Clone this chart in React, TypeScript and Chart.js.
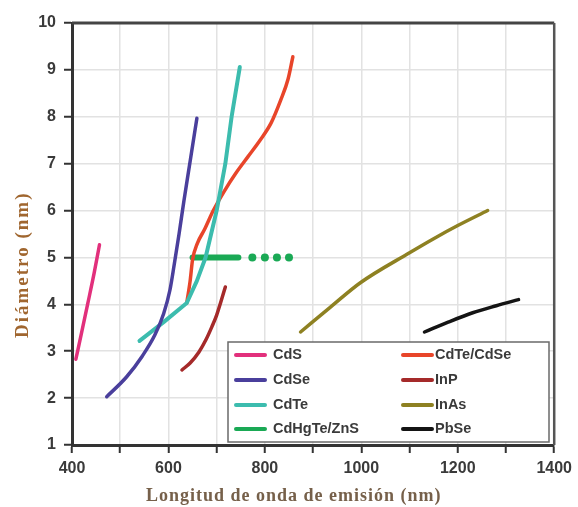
import { useEffect, useRef } from 'react';
import { Chart, registerables } from 'chart.js';

Chart.register(...registerables);

// Emission wavelength (nm) vs. nanocrystal diameter (nm) for each material
const cdsX = [408, 420, 433, 446, 457];
const cdsY = [2.83, 3.4, 4.03, 4.67, 5.27];

const cdseX = [472, 513, 546, 572, 590, 603, 612, 622, 632, 645, 659];
const cdseY = [2.03, 2.45, 2.9, 3.35, 3.8, 4.3, 4.85, 5.5, 6.2, 7.05, 7.97];

const cdteX = [540, 590, 638, 659, 677, 700, 718, 731, 748];
const cdteY = [3.22, 3.62, 4.03, 4.5, 5.0, 6.0, 7.0, 8.0, 9.06];

const cdhgteX = [650, 745];
const cdhgteY = [5, 5];
const cdhgteDotsX = [774, 800, 825, 850];
const cdhgteDotsY = [5, 5, 5, 5];

const cdteCdseX = [638, 645, 650, 660, 675, 693, 715, 740, 765, 790, 813, 833, 848, 858];
const cdteCdseY = [4.03, 4.5, 4.95, 5.3, 5.6, 6.0, 6.4, 6.8, 7.15, 7.5, 7.87, 8.36, 8.8, 9.28];

const inpX = [628, 645, 663, 678, 690, 700, 708, 718];
const inpY = [2.6, 2.75, 2.98, 3.25, 3.52, 3.77, 4.03, 4.37];

const inasX = [874, 936, 998, 1100, 1150, 1200, 1262];
const inasY = [3.41, 3.94, 4.46, 5.1, 5.4, 5.68, 6.0];

const pbseX = [1131, 1180, 1231, 1280, 1326];
const pbseY = [3.41, 3.62, 3.82, 3.97, 4.1];

// Legend layout: left column, then right column
const legendLeft = ['CdS', 'CdSe', 'CdTe', 'CdHgTe/ZnS'];
const legendRight = ['CdTe/CdSe', 'InP', 'InAs', 'PbSe'];

const xTitle = 'Longitud de onda de emisión (nm)';
const yTitle = 'Diámetro (nm)';

const COLORS: Record<string, string> = {
  CdS: '#e2307c',
  CdSe: '#4a3f9c',
  CdTe: '#3cbcae',
  'CdHgTe/ZnS': '#1aa955',
  'CdTe/CdSe': '#e8452a',
  InP: '#a52a2a',
  InAs: '#8e8122',
  PbSe: '#141414',
};

const pts = (xs: number[], ys: number[]) => xs.map((x, i) => ({ x, y: ys[i] }));

const line = (label: string, xs: number[], ys: number[], width = 3.5, smooth = true) => ({
  label,
  data: pts(xs, ys),
  showLine: true,
  borderColor: COLORS[label],
  backgroundColor: COLORS[label],
  borderWidth: width,
  borderCapStyle: 'round' as const,
  borderJoinStyle: 'round' as const,
  cubicInterpolationMode: smooth ? ('monotone' as const) : ('default' as const),
  tension: 0,
  pointRadius: 0,
});

const framePlugin = {
  id: 'frame',
  afterDraw(chart: any) {
    const { ctx, chartArea: a } = chart;
    ctx.save();
    ctx.strokeStyle = '#444';
    ctx.lineWidth = 3;
    ctx.beginPath();
    ctx.moveTo(a.left, a.top);
    ctx.lineTo(a.right, a.top);
    ctx.stroke();
    ctx.strokeStyle = '#555';
    ctx.lineWidth = 2.5;
    ctx.beginPath();
    ctx.moveTo(a.right, a.top);
    ctx.lineTo(a.right, a.bottom);
    ctx.stroke();
    ctx.restore();
  },
};

const legendPlugin = {
  id: 'boxLegend',
  afterDraw(chart: any) {
    const { ctx } = chart;
    const box = { x: 228, y: 342, w: 321, h: 100 };
    ctx.save();
    ctx.fillStyle = '#fff';
    ctx.fillRect(box.x, box.y, box.w, box.h);
    ctx.strokeStyle = '#6a6a6a';
    ctx.lineWidth = 1.5;
    ctx.strokeRect(box.x, box.y, box.w, box.h);
    ctx.font = 'bold 14.5px "Liberation Sans", Arial, sans-serif';
    ctx.textBaseline = 'middle';
    const rows = [355, 380, 405, 429];
    const draw = (labels: string[], lx: number, tx: number) => {
      labels.forEach((lab, i) => {
        const y = rows[i];
        ctx.strokeStyle = COLORS[lab];
        ctx.lineWidth = 4;
        ctx.lineCap = 'round';
        ctx.beginPath();
        ctx.moveTo(lx, y);
        ctx.lineTo(lx + 29, y);
        ctx.stroke();
        ctx.fillStyle = '#3a3a3a';
        ctx.fillText(lab, tx, y);
      });
    };
    draw(legendLeft, 236, 273);
    draw(legendRight, 403, 435);
    ctx.restore();
  },
};

const titlePlugin = {
  id: 'axisTitles',
  afterDraw(chart: any) {
    const { ctx } = chart;
    ctx.save();
    ctx.textBaseline = 'alphabetic';
    ctx.textAlign = 'left';
    ctx.font = 'bold 18px "Liberation Serif", "Times New Roman", serif';
    ctx.fillStyle = '#76604a';
    (ctx as any).letterSpacing = '1px';
    ctx.fillText(xTitle, 146, 501);
    ctx.translate(28, 338);
    ctx.rotate(-Math.PI / 2);
    ctx.font = 'bold 19px "Liberation Serif", "Times New Roman", serif';
    ctx.fillStyle = '#a0662f';
    (ctx as any).letterSpacing = '2px';
    ctx.fillText(yTitle, 0, 0);
    ctx.restore();
  },
};

export default function App() {
  const ref = useRef<HTMLCanvasElement>(null);

  useEffect(() => {
    if (!ref.current) return;
    const tickFont = { family: '"Liberation Sans", Arial, sans-serif', size: 16, weight: 'bold' as const };
    const chart = new Chart(ref.current, {
      type: 'scatter',
      data: {
        datasets: [
          line('CdS', cdsX, cdsY),
          line('CdSe', cdseX, cdseY),
          line('CdTe', cdteX, cdteY, 4, false),
          line('CdTe/CdSe', cdteCdseX, cdteCdseY),
          line('InP', inpX, inpY),
          line('CdHgTe/ZnS', cdhgteX, cdhgteY, 6, false),
          {
            label: 'CdHgTe/ZnS (dots)',
            data: pts(cdhgteDotsX, cdhgteDotsY),
            showLine: false,
            pointRadius: 4,
            pointBorderWidth: 0,
            pointBackgroundColor: COLORS['CdHgTe/ZnS'],
            backgroundColor: COLORS['CdHgTe/ZnS'],
          },
          line('InAs', inasX, inasY),
          line('PbSe', pbseX, pbseY),
        ],
      },
      options: {
        animation: false,
        responsive: false,
        devicePixelRatio: 1,
        layout: { padding: { top: 23, right: 19, left: 0, bottom: 0 } },
        plugins: { legend: { display: false }, tooltip: { enabled: false } },
        scales: {
          x: {
            type: 'linear',
            min: 400,
            max: 1400,
            afterFit: (s: any) => {
              s.height = 62;
            },
            ticks: {
              stepSize: 100,
              autoSkip: false,
              maxRotation: 0,
              padding: 6,
              color: '#3a3a3a',
              font: tickFont,
              callback: (v: any) => (Number(v) % 200 === 0 ? String(v) : ''),
            },
            grid: { color: '#e2e2e2', lineWidth: 1.5, tickLength: 8, tickColor: '#333', tickWidth: 2 },
            border: { color: '#333', width: 3 },
          },
          y: {
            type: 'linear',
            min: 1,
            max: 10,
            afterFit: (s: any) => {
              s.width = 72;
            },
            ticks: { stepSize: 1, padding: 8, color: '#3a3a3a', font: tickFont },
            grid: { color: '#e2e2e2', lineWidth: 1.5, tickLength: 8, tickColor: '#333', tickWidth: 2 },
            border: { color: '#333', width: 3 },
          },
        },
      },
      plugins: [framePlugin, legendPlugin, titlePlugin],
    });
    return () => chart.destroy();
  }, []);

  return (
    <div style={{ position: 'absolute', left: 0, top: 0, width: 578, height: 507, background: '#fff' }}>
      <canvas ref={ref} width={578} height={507} />
    </div>
  );
}
